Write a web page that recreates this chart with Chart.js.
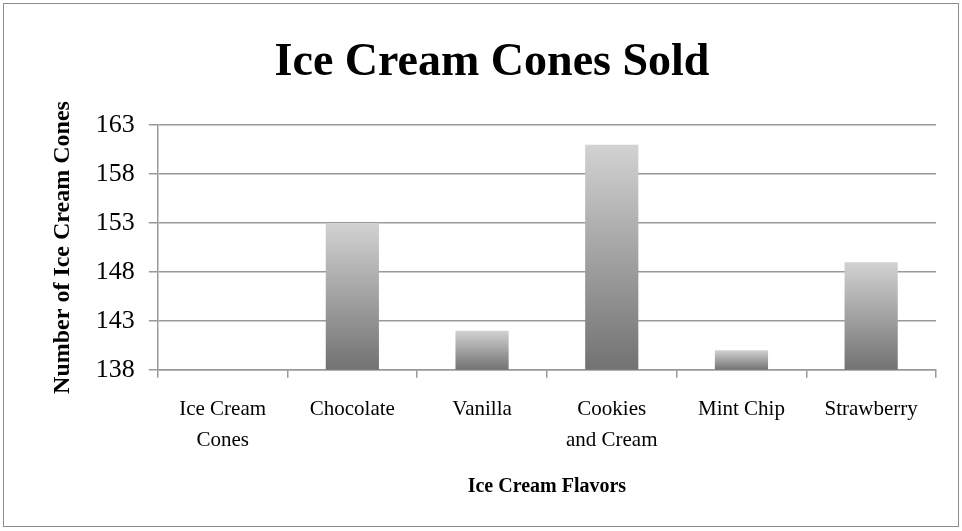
<!DOCTYPE html>
<html>
<head>
<meta charset="utf-8">
<script src="https://cdn.jsdelivr.net/npm/chart.js@4/dist/chart.umd.min.js"></script>
<style>
  html, body { margin: 0; padding: 0; background: #fff; }
  #wrap { width: 962px; height: 531px; }
</style>
</head>
<body>
<div id="wrap"><canvas id="chart" width="962" height="531"></canvas></div>
<script>
var flavors = [["Ice Cream", "Cones"], "Chocolate", "Vanilla", ["Cookies", "and Cream"], "Mint Chip", "Strawberry"];
var conesSold = [null, 153, 142, 161, 140, 149];
var yMin = 138, yMax = 163, yStep = 5;

var serif = "'Liberation Serif', 'DejaVu Serif', serif";

var barGradient = function (ctx) {
    var chart = ctx.chart;
    if (!chart.chartArea || ctx.raw == null) return "#999";
    var y = chart.scales.y;
    var top = y.getPixelForValue(ctx.raw);
    var bottom = y.getPixelForValue(yMin);
    var g = chart.ctx.createLinearGradient(0, top, 0, bottom);
    g.addColorStop(0, "#d2d2d2");
    g.addColorStop(1, "#727272");
    return g;
};

var frame = {
    id: "frame",
    afterDraw: function (chart) {
        var c = chart.ctx;
        c.save();
        c.strokeStyle = "#8c8c8c";
        c.lineWidth = 1;
        c.strokeRect(3.5, 3.5, 955, 523);
        c.restore();
    }
};

new Chart(document.getElementById("chart"), {
    type: "bar",
    data: {
        labels: flavors,
        datasets: [{
            label: "Ice Cream Cones Sold",
            data: conesSold,
            backgroundColor: barGradient,
            borderWidth: 0,
            categoryPercentage: 0.82,
            barPercentage: 0.5
        }]
    },
    options: {
        responsive: false,
        animation: false,
        layout: { padding: { left: 48, right: 26, top: 10, bottom: 28 } },
        plugins: {
            legend: { display: false },
            tooltip: { enabled: false },
            title: {
                display: true,
                text: "Ice Cream Cones Sold",
                color: "#000",
                font: { family: serif, size: 46, weight: "bold" },
                padding: { top: 26, bottom: 34 }
            }
        },
        scales: {
            x: {
                grid: { display: true, drawOnChartArea: false, drawTicks: true, tickLength: 8, color: "#999", lineWidth: 1.5 },
                border: { color: "#999", width: 1.5 },
                ticks: { color: "#000", font: { family: serif, size: 21, lineHeight: 1.48 }, maxRotation: 0, autoSkip: false, padding: 16 },
                title: { display: true, text: "Ice Cream Flavors", color: "#000", font: { family: serif, size: 20, weight: "bold" }, padding: { top: 3 } }
            },
            y: {
                min: yMin,
                max: yMax,
                grid: { color: "#999", lineWidth: 1.5, tickLength: 9 },
                border: { color: "#999", width: 1.5 },
                ticks: { stepSize: yStep, color: "#000", font: { family: serif, size: 26 }, padding: 14 },
                title: { display: true, text: "Number of Ice Cream Cones", color: "#000", font: { family: serif, size: 24, weight: "bold" }, padding: { top: 0, bottom: 5 } }
            }
        }
    },
    plugins: [frame]
});
</script>
</body>
</html>
